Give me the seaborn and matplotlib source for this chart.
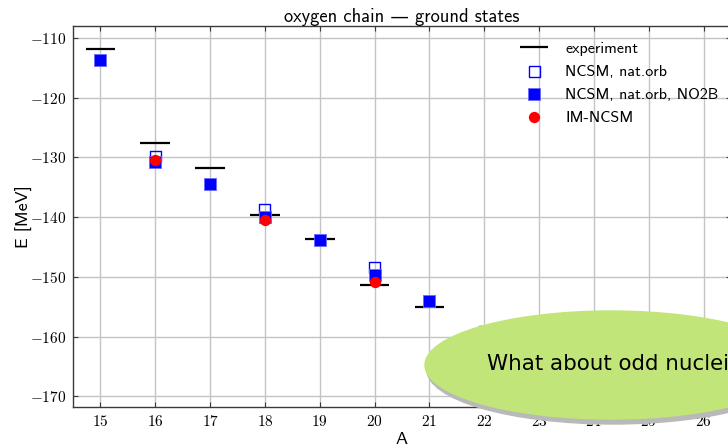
"""Oxygen chain ground-state energies: experiment vs. NCSM variants."""

import matplotlib

matplotlib.use("Agg")
import matplotlib.pyplot as plt
import pandas as pd
import seaborn as sns
from matplotlib.patches import Ellipse
from matplotlib.ticker import FuncFormatter

# experiment (black bars)
exp_A = [15, 16, 17, 18, 19, 20, 21, 22]
exp_E = [-111.9, -127.6, -131.7, -139.7, -143.6, -151.3, -155.1, -162.0]

# NCSM, nat.orb (open squares)
nat_A = [16, 18, 20, 22]
nat_E = [-129.8, -138.7, -148.5, -159.1]

# NCSM, nat.orb, NO2B (filled squares)
no2b_A = [15, 16, 17, 18, 19, 20, 21, 22]
no2b_E = [-113.7, -130.8, -134.4, -139.9, -143.8, -149.7, -154.1, -159.6]

# IM-NCSM (red circles)
im_A = [16, 18, 20]
im_E = [-130.4, -140.5, -150.8]

bar_half = 0.27

sns.set_style(
    "whitegrid",
    {
        "grid.color": "#c4c4c4",
        "axes.edgecolor": "#3a3a3a",
        "axes.labelcolor": "black",
        "text.color": "black",
        "xtick.color": "black",
        "ytick.color": "black",
        "xtick.direction": "in",
        "ytick.direction": "in",
        "xtick.top": True,
        "ytick.right": True,
        "xtick.bottom": True,
        "ytick.left": True,
    },
)
plt.rcParams["font.family"] = ["cmss10", "DejaVu Sans"]
plt.rcParams["mathtext.fontset"] = "cm"
plt.rcParams["axes.unicode_minus"] = True

fig = plt.figure(figsize=(7.28, 4.45), dpi=100)
ax = fig.add_axes([73 / 728, 38 / 445, 658 / 728, 381 / 445])

df_nat = pd.DataFrame({"A": nat_A, "E": nat_E})
df_no2b = pd.DataFrame({"A": no2b_A, "E": no2b_E})
df_im = pd.DataFrame({"A": im_A, "E": im_E})

ax.hlines(
    exp_E,
    [a - bar_half for a in exp_A],
    [a + bar_half for a in exp_A],
    color="black",
    lw=1.6,
    label="experiment",
    zorder=3,
)
sns.scatterplot(
    data=df_nat, x="A", y="E", ax=ax, marker="s", s=64,
    facecolor="none", edgecolor="blue", linewidth=1.0,
    label="NCSM, nat.orb", zorder=4,
)
sns.scatterplot(
    data=df_no2b, x="A", y="E", ax=ax, marker="s", s=64,
    color="blue", edgecolor="#6a6aff", linewidth=0.6,
    label="NCSM, nat.orb, NO2B", zorder=5,
)
sns.scatterplot(
    data=df_im, x="A", y="E", ax=ax, marker="o", s=66,
    color="red", edgecolor="red", linewidth=0,
    label="IM-NCSM", zorder=6,
)

ax.set_xlim(14.5, 26.5)
ax.set_ylim(-171.8, -108.0)
ax.set_xticks(range(15, 27))
ax.set_yticks(range(-170, -109, 10))
fmt = FuncFormatter(lambda v, _: rf"${v:.0f}$")
ax.xaxis.set_major_formatter(fmt)
ax.yaxis.set_major_formatter(fmt)
ax.tick_params(axis="both", which="major", length=3.5, width=0.8,
               color="#3a3a3a", labelcolor="black", labelsize=11, pad=5)
for sp in ax.spines.values():
    sp.set_linewidth(1.0)
ax.grid(True, color="#c4c4c4", lw=1.0)

ax.set_title("oxygen chain — ground states", fontsize=13.3, pad=3)
ax.set_xlabel("A", fontsize=13, labelpad=2)
ax.set_ylabel("E [MeV]", fontsize=13, labelpad=-2)

leg = ax.legend(
    loc="upper left", bbox_to_anchor=(0.657, 0.997), frameon=False,
    fontsize=11.5, handlelength=1.8, handletextpad=1.05, labelspacing=0.55,
)

# slide overlay bubble
shadow = Ellipse((613 / 728, 1 - 370 / 445), 372 / 728, 108 / 445,
                 transform=fig.transFigure, color="#b9b9b9", zorder=10)
bubble = Ellipse((611 / 728, 1 - 365 / 445), 372 / 728, 108 / 445,
                 transform=fig.transFigure, color="#c2e579", zorder=11)
fig.add_artist(shadow)
fig.add_artist(bubble)
fig.text(487 / 728, 1 - 364 / 445, "What about odd nuclei", fontsize=15.4,
         family="DejaVu Sans", color="black", va="center", ha="left",
         zorder=12)

fig.savefig("out.png", dpi=100)
